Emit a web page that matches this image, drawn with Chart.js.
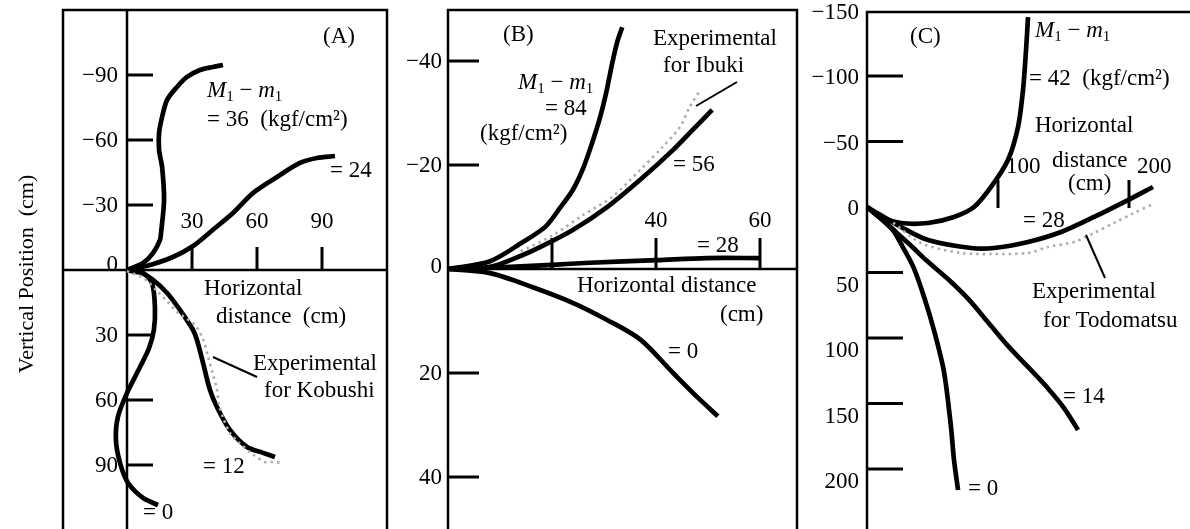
<!DOCTYPE html>
<html>
<head>
<meta charset="utf-8">
<script src="https://cdn.jsdelivr.net/npm/chart.js@4.4.1/dist/chart.umd.min.js"></script>
<style>
  html, body { margin: 0; padding: 0; background: #fff; }
  #wrap { position: relative; width: 1190px; height: 529px; overflow: hidden; background: #fff; }
  #wrap canvas { position: absolute; left: 0; top: 0; }
</style>
</head>
<body>
<div id="wrap">
  <canvas id="panelA" width="1190" height="529"></canvas>
  <canvas id="panelB" width="1190" height="529"></canvas>
  <canvas id="panelC" width="1190" height="529"></canvas>
</div>
<script>
// ---------- Panel (A): Kobushi, horizontal distance / vertical position in cm ----------
const aYTicks = [-90, -60, -30, 0, 30, 60, 90];
const aXTicks = [30, 60, 90];

const aM36X = [0, 7.4, 12.0, 15.2, 15.7, 17.1, 16.2, 14.8, 14.8, 16.2, 18.5, 23.1, 27.7, 33.7, 39.7, 44.3];
const aM36Y = [0, -3.2, -7.8, -13.8, -17.1, -32.3, -47.5, -55.4, -63.2, -70.6, -78.5, -84.5, -89.1, -92.3, -93.7, -94.6];

const aM24X = [0, 10.6, 21.2, 30.5, 39.0, 48.9, 58.1, 69.2, 79.8, 87.7, 96.0];
const aM24Y = [0, -2.3, -6.0, -11.1, -18.0, -26.3, -35.5, -42.9, -49.4, -51.7, -52.6];

const aM12X = [0, 6.0, 12.0, 18.5, 24.5, 30.5, 32.3, 35.1, 38.3, 41.5, 47.5, 55.4, 62.8, 68.3];
const aM12Y = [0, 0.9, 4.6, 10.6, 18.5, 27.7, 32.3, 42.9, 55.4, 63.2, 73.8, 81.7, 84.4, 86.3];

const aM0X = [0, 4.0, 7.4, 11.5, 12.9, 12.4, 10.2, 6.0, 0, -4.2, -5.1, -3.2, 0.5, 7.4, 14.3];
const aM0Y = [0, 0.9, 1.4, 6.0, 17.1, 27.7, 36.0, 44.8, 56.8, 67.8, 78.5, 89.1, 98.3, 105.2, 108.5];

const aKobushiX = [0, 8.0, 14.3, 18.9, 23.1, 31.4, 35.1, 37.4, 39.6, 41.5, 42.4, 44.3, 47.5, 52.0, 58.0, 63.7, 67.4, 72.0];
const aKobushiY = [0.5, 4.0, 10.2, 14.8, 19.4, 25.4, 32.0, 40.0, 48.0, 55.0, 62.0, 68.0, 75.2, 80.0, 85.0, 88.6, 88.6, 89.1];

// ---------- Panel (B): Ibuki ----------
const bYTicks = [-40, -20, 0, 20, 40];
const bXTicks = [20, 40, 60];
const bXTickLabels = [40, 60];

const bM84X = [0, 8.1, 14.4, 18.7, 21.5, 24.0, 26.0, 27.7, 29.2, 30.4, 31.5, 32.5, 33.5];
const bM84Y = [0, -1.5, -5.2, -8.1, -11.7, -15.2, -19.4, -24.2, -29.0, -33.8, -39.2, -43.5, -46.5];

const bM56X = [0, 8.1, 14.4, 17.7, 24.0, 30.6, 36.9, 43.3, 47.0, 50.8];
const bM56Y = [0, -0.4, -2.7, -4.2, -7.5, -11.9, -17.1, -22.9, -26.7, -30.6];

const bM28X = [0, 10, 20, 27.3, 40.2, 49.8, 60.0];
const bM28Y = [0, -0.3, -0.8, -1.2, -1.7, -2.1, -2.1];

const bM0X = [0, 8.1, 16.3, 24.0, 30.6, 36.9, 43.3, 47.9, 51.9];
const bM0Y = [0, 0.8, 3.5, 6.5, 9.8, 13.5, 20.0, 24.6, 28.3];

const bIbukiX = [14.0, 20.2, 26.0, 31.5, 36.9, 41.3, 44.6, 46.5, 48.5];
const bIbukiY = [-3.4, -6.5, -10.4, -13.8, -19.0, -23.5, -27.3, -31.2, -34.4];

// ---------- Panel (C): Todomatsu ----------
const cYTicks = [-150, -100, -50, 0, 50, 100, 150, 200];
const cXTicks = [100, 200];

const cM42X = [0, 10.7, 26.0, 46.6, 66.4, 81.7, 94.7, 107.6, 115.3, 119.1, 121.4, 122.9];
const cM42Y = [0, 7.6, 12.2, 12.2, 7.6, 0, -15.3, -35.9, -61.1, -89.3, -119.8, -145.0];

const cM28X = [0, 10, 26.0, 46.6, 79.4, 96.9, 122.9, 148.1, 173.3, 199.2, 218.3];
const cM28Y = [0, 6, 15.3, 25.2, 31.3, 31.3, 26.7, 19.1, 7.6, -5.3, -15.3];

const cM14X = [0, 12, 22, 33, 45.0, 61.8, 77.1, 92.4, 107.6, 122.9, 138.2, 150.4, 161.1];
const cM14Y = [0, 10, 19, 29, 40.5, 55.0, 70.0, 88.0, 106.0, 122.1, 138.5, 153.5, 170.2];

const cM0X = [0, 12, 20, 27, 35.9, 44.0, 51.1, 58.8, 64.1, 66.4, 69.5];
const cM0Y = [0, 10, 18, 30, 47.0, 70.0, 94.0, 126.0, 167.9, 193.0, 216.0];

const cTodomatsuX = [20, 41.2, 71.8, 96.9, 122.9, 138.2, 158.0, 173.3, 188.5, 203.8, 218.3];
const cTodomatsuY = [12, 27.5, 35.1, 35.9, 35.1, 30.5, 26.7, 19.8, 12.2, 4.6, -2.3];

// ---------- helpers ----------
const FONT = '"Liberation Serif", "Times New Roman", Times, serif';
const FS = 23;

function pts(xs, ys) { return xs.map((x, i) => ({ x: x, y: ys[i] })); }
function model(xs, ys) {
  return { data: pts(xs, ys), showLine: true, borderColor: '#000', borderWidth: 4.7,
           pointRadius: 0, tension: 0.3, borderCapStyle: 'butt', borderJoinStyle: 'round', fill: false };
}
function experiment(xs, ys) {
  return { data: pts(xs, ys), showLine: true, borderColor: '#adadad', borderWidth: 2.6,
           borderDash: [2.5, 4], pointRadius: 0, tension: 0.3, fill: false };
}
function seg(ctx, x1, y1, x2, y2, w) {
  ctx.save(); ctx.lineWidth = w; ctx.strokeStyle = '#000'; ctx.lineCap = 'butt';
  ctx.beginPath(); ctx.moveTo(x1, y1); ctx.lineTo(x2, y2); ctx.stroke(); ctx.restore();
}
function txt(ctx, s, x, y, align, base, size) {
  ctx.save(); ctx.fillStyle = '#000'; ctx.font = (size || FS) + 'px ' + FONT;
  ctx.textAlign = align || 'left'; ctx.textBaseline = base || 'alphabetic';
  ctx.fillText(s, x, y); ctx.restore();
}
// "M1 − m1" with italic letters and subscript ones
function mLabel(ctx, x, y) {
  ctx.save(); ctx.fillStyle = '#000'; ctx.textBaseline = 'alphabetic'; ctx.textAlign = 'left';
  const it = 'italic ' + FS + 'px ' + FONT, up = FS + 'px ' + FONT, sub = '15px ' + FONT;
  let cx = x;
  ctx.font = it; ctx.fillText('M', cx, y); cx += ctx.measureText('M').width;
  ctx.font = sub; ctx.fillText('1', cx, y + 4); cx += ctx.measureText('1').width;
  ctx.font = up; ctx.fillText(' \u2212 ', cx, y); cx += ctx.measureText(' \u2212 ').width;
  ctx.font = it; ctx.fillText('m', cx, y); cx += ctx.measureText('m').width;
  ctx.font = sub; ctx.fillText('1', cx, y + 4);
  ctx.restore();
}
function tickText(v) { return v < 0 ? '\u2212' + Math.abs(v) : String(v); }
function frame(ctx, pathPts, w) {
  ctx.save(); ctx.lineWidth = w; ctx.strokeStyle = '#000'; ctx.lineJoin = 'miter';
  ctx.beginPath(); ctx.moveTo(pathPts[0][0], pathPts[0][1]);
  for (let i = 1; i < pathPts.length; i++) ctx.lineTo(pathPts[i][0], pathPts[i][1]);
  ctx.stroke(); ctx.restore();
}

function makeChart(id, datasets, pad, xr, yr, decor) {
  return new Chart(document.getElementById(id), {
    type: 'scatter',
    data: { datasets: datasets },
    options: {
      responsive: false, animation: false, devicePixelRatio: 1,
      layout: { padding: pad },
      scales: {
        x: { type: 'linear', min: xr[0], max: xr[1], display: false },
        y: { type: 'linear', min: yr[0], max: yr[1], reverse: true, display: false }
      },
      plugins: { legend: { display: false }, tooltip: { enabled: false } }
    },
    plugins: [decor]
  });
}

// ---------- Panel (A) ----------
makeChart('panelA',
  [experiment(aKobushiX, aKobushiY), model(aM36X, aM36Y), model(aM24X, aM24Y), model(aM12X, aM12Y), model(aM0X, aM0Y)],
  { left: 63, top: 10, right: 1190 - 387, bottom: 0 },
  [-29.54, 120], [-120, 119.54],
  {
    id: 'decorA',
    beforeDatasetsDraw(chart) {
      const ctx = chart.ctx, a = chart.chartArea, xs = chart.scales.x, ys = chart.scales.y;
      const x0 = xs.getPixelForValue(0), y0 = ys.getPixelForValue(0);
      frame(ctx, [[a.left, a.bottom + 4], [a.left, a.top], [a.right, a.top], [a.right, a.bottom + 4]], 2.5);
      seg(ctx, x0, a.top, x0, a.bottom + 4, 2.5);
      seg(ctx, a.left, y0, a.right, y0, 2.5);
      aYTicks.forEach(v => { if (v !== 0) { const y = ys.getPixelForValue(v); seg(ctx, x0, y, x0 + 26, y, 3); } });
      aXTicks.forEach(v => { const x = xs.getPixelForValue(v); seg(ctx, x, y0, x, y0 - 23, 3); });
    },
    afterDatasetsDraw(chart) {
      const ctx = chart.ctx, xs = chart.scales.x, ys = chart.scales.y;
      const x0 = xs.getPixelForValue(0);
      aYTicks.forEach(v => txt(ctx, tickText(v), x0 - 9, ys.getPixelForValue(v) + (v === 0 ? -5 : 1), 'right', 'middle'));
      aXTicks.forEach(v => txt(ctx, tickText(v), xs.getPixelForValue(v), 228, 'center'));
      txt(ctx, '(A)', 323, 43);
      mLabel(ctx, 207, 97);
      txt(ctx, '= 36  (kgf/cm\u00b2)', 207, 126);
      txt(ctx, '= 24', 330, 177);
      txt(ctx, 'Horizontal', 204, 295);
      txt(ctx, 'distance  (cm)', 216, 323);
      txt(ctx, 'Experimental', 253, 370);
      txt(ctx, 'for Kobushi', 264, 397);
      seg(ctx, 213, 357, 257, 377, 2);
      txt(ctx, '= 12', 203, 473);
      txt(ctx, '= 0', 143, 519);
      // shared vertical-axis title
      ctx.save(); ctx.translate(33, 274); ctx.rotate(-Math.PI / 2);
      txt(ctx, 'Vertical Position  (cm)', 0, 0, 'center', 'alphabetic', 22);
      ctx.restore();
    }
  });

// ---------- Panel (B) ----------
makeChart('panelB',
  [experiment(bIbukiX, bIbukiY), model(bM84X, bM84Y), model(bM56X, bM56Y), model(bM28X, bM28Y), model(bM0X, bM0Y)],
  { left: 448, top: 10, right: 1190 - 797, bottom: 0 },
  [0, 349 / 5.2], [-259 / 5.2, 260 / 5.2],
  {
    id: 'decorB',
    beforeDatasetsDraw(chart) {
      const ctx = chart.ctx, a = chart.chartArea, xs = chart.scales.x, ys = chart.scales.y;
      const x0 = xs.getPixelForValue(0), y0 = ys.getPixelForValue(0);
      frame(ctx, [[a.left, a.bottom + 4], [a.left, a.top], [a.right, a.top], [a.right, a.bottom + 4]], 2.5);
      seg(ctx, a.left, y0, a.right, y0, 2.5);
      bYTicks.forEach(v => { if (v !== 0) { const y = ys.getPixelForValue(v); seg(ctx, x0, y, x0 + 31, y, 3); } });
      bXTicks.forEach(v => { const x = xs.getPixelForValue(v); seg(ctx, x, y0, x, y0 - 31, 3); });
    },
    afterDatasetsDraw(chart) {
      const ctx = chart.ctx, xs = chart.scales.x, ys = chart.scales.y;
      const x0 = xs.getPixelForValue(0);
      bYTicks.forEach(v => txt(ctx, tickText(v), x0 - 6, ys.getPixelForValue(v) + (v === 0 ? -2 : 1), 'right', 'middle'));
      bXTickLabels.forEach(v => txt(ctx, tickText(v), xs.getPixelForValue(v), 227, 'center'));
      txt(ctx, '(B)', 503, 41);
      txt(ctx, 'Experimental', 653, 45);
      txt(ctx, 'for Ibuki', 663, 72);
      seg(ctx, 737, 82, 696, 106, 2);
      mLabel(ctx, 518, 89);
      txt(ctx, '= 84', 545, 115);
      txt(ctx, '(kgf/cm\u00b2)', 480, 140);
      txt(ctx, '= 56', 673, 171);
      txt(ctx, '= 28', 697, 252);
      txt(ctx, 'Horizontal distance', 577, 292);
      txt(ctx, '(cm)', 720, 321);
      txt(ctx, '= 0', 668, 358);
    }
  });

// ---------- Panel (C) ----------
makeChart('panelC',
  [experiment(cTodomatsuX, cTodomatsuY), model(cM42X, cM42Y), model(cM28X, cM28Y), model(cM14X, cM14Y), model(cM0X, cM0Y)],
  { left: 867, top: 12, right: 0, bottom: 0 },
  [0, 323 / 1.31], [-195 / 1.31, 322 / 1.31],
  {
    id: 'decorC',
    beforeDatasetsDraw(chart) {
      const ctx = chart.ctx, a = chart.chartArea, xs = chart.scales.x, ys = chart.scales.y;
      const x0 = xs.getPixelForValue(0), y0 = ys.getPixelForValue(0);
      frame(ctx, [[a.left, a.bottom + 4], [a.left, a.top], [a.right + 4, a.top]], 2.5);
      cYTicks.forEach(v => { if (v !== 0 && v !== -150) { const y = ys.getPixelForValue(v); seg(ctx, x0, y, x0 + 36, y, 3); } });
      cXTicks.forEach(v => { const x = xs.getPixelForValue(v); seg(ctx, x, y0 + 1, x, y0 - 27, 3); });
    },
    afterDatasetsDraw(chart) {
      const ctx = chart.ctx, xs = chart.scales.x, ys = chart.scales.y;
      const x0 = xs.getPixelForValue(0);
      cYTicks.forEach(v => txt(ctx, tickText(v), x0 - 8, ys.getPixelForValue(v) + (v > 0 ? 13 : 2), 'right', 'middle'));
      cXTicks.forEach(v => txt(ctx, tickText(v), xs.getPixelForValue(v) + 8, 173, 'left'));
      txt(ctx, '(C)', 910, 43);
      mLabel(ctx, 1035, 37);
      txt(ctx, '= 42  (kgf/cm\u00b2)', 1029, 85);
      txt(ctx, 'Horizontal', 1035, 132);
      txt(ctx, 'distance', 1052, 167);
      txt(ctx, '(cm)', 1068, 190);
      txt(ctx, '= 28', 1023, 227);
      seg(ctx, 1086, 235, 1105, 278, 2);
      txt(ctx, 'Experimental', 1032, 298);
      txt(ctx, 'for Todomatsu', 1043, 327);
      txt(ctx, '= 14', 1063, 403);
      txt(ctx, '= 0', 968, 495);
    }
  });
</script>
</body>
</html>
